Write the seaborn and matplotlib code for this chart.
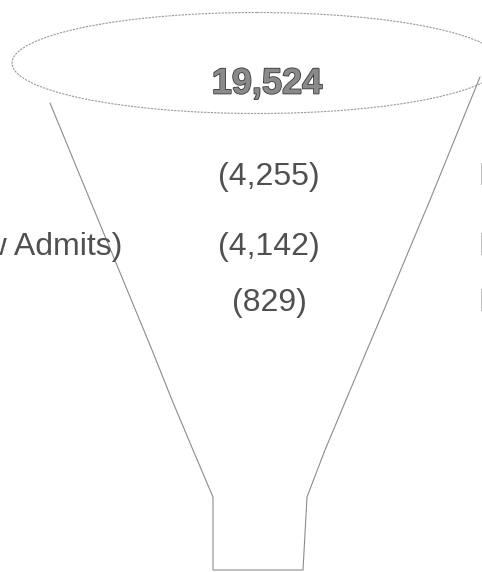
import matplotlib
matplotlib.use('Agg')
import matplotlib.pyplot as plt
import seaborn as sns
from matplotlib.patches import Ellipse
import matplotlib.patheffects as pe

# Funnel numbers (top total, then the drop-offs)
total_value = 19524
stage_values = [4255, 4142, 829]
left_labels = ['', '(New Admits)', '']
right_labels = ['Exits', 'Exits', 'Exits']

# Funnel outline (pixel space of the scanned page)
left_x = [50, 90, 152, 172, 193, 210, 213, 213]
left_y = [103, 200, 350, 400, 450, 490, 497, 570]
right_x = [303, 307, 325, 346, 367, 381, 430, 480]
right_y = [570, 497, 450, 400, 350, 317, 200, 77]

sns.set_theme(style='white')
plt.rcParams['font.family'] = ['Liberation Sans', 'DejaVu Sans']

fig = plt.figure(figsize=(4.82, 5.72), dpi=100)
ax = fig.add_axes([0, 0, 1, 1])
ax.set_xlim(0, 482)
ax.set_ylim(572, 0)
ax.axis('off')

line_kw = dict(color='#8c8c8c', linewidth=0.8)
outline_x = left_x + right_x
outline_y = left_y + right_y
sns.lineplot(x=outline_x, y=outline_y, sort=False, estimator=None, ax=ax, **line_kw)

ax.add_patch(Ellipse((257, 63), 490, 101, fill=False, edgecolor='#9a9a9a',
                     linewidth=0.8, linestyle=(0, (2, 1))))

ax.text(267, 84, f'{total_value:,}', ha='center', va='center', fontsize=26,
        fontweight='bold', color='#8a8a8a',
        path_effects=[pe.withStroke(linewidth=1.2, foreground='#3a3a3a')])

rows_y = [177, 247, 303]
for val, ly, lab, rlab in zip(stage_values, rows_y, left_labels, right_labels):
    ax.text(269, ly, f'({val:,})', ha='center', va='center', fontsize=23, color='#505050')
    if lab:
        ax.text(122, ly, lab, ha='right', va='center', fontsize=23, color='#505050')
    ax.text(478, ly, rlab, ha='left', va='center', fontsize=23, color='#505050')

fig.savefig('out.png', dpi=100)
